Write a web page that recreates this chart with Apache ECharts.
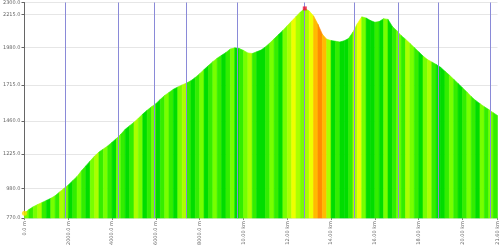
<!DOCTYPE html>
<html><head><meta charset="utf-8">
<script src="https://cdn.jsdelivr.net/npm/echarts@6/dist/echarts.min.js"></script>
<style>html,body{margin:0;padding:0;background:#fff}#c{width:500px;height:248px}</style>
</head><body><div id="c"></div>
<script>
// distance step between samples (km)
const stepKm = 0.2;
// elevation (m) sampled every 0.2 km
const elevations = [804,830,850,866,880,895,910,928,955,980,1005,1035,1065,1105,1140,1175,1210,1238,1260,1282,
1308,1335,1365,1400,1425,1450,1478,1508,1535,1560,1582,1612,1640,1662,1684,1700,1715,1728,1745,1768,
1795,1824,1852,1880,1905,1925,1945,1970,1978,1974,1960,1942,1938,1950,1962,1985,2012,2042,2072,2102,
2135,2168,2200,2232,2258,2240,2205,2145,2075,2040,2030,2025,2020,2028,2045,2090,2150,2198,2190,2172,
2160,2165,2185,2180,2130,2100,2065,2040,2010,1980,1950,1920,1895,1878,1860,1840,1812,1785,1755,1725,
1695,1665,1632,1605,1582,1560,1540,1518,1498];
const gradeClass = [2,1,2,3,1,0,2,1,3,2,0,1,2,1,0,2,3,1,2,
1,0,2,1,0,1,3,2,0,1,2,0,1,2,1,0,2,3,1,0,1,2,0,1,2,1,0,
1,2,0,1,2,3,1,0,0,1,2,1,0,
2,3,4,3,2,
3,4,5,6,5,3,
0,1,0,0,1,
3,4,2,
0,0,1,0,2,0,1,
2,1,3,2,1,0,2,3,1,0,0,1,2,1,0,1,2,1,0,2,1,2,1];
// waypoint markers (km)
const waypoints = [1.88, 4.26, 5.92, 7.40, 9.73, 12.78, 15.07, 17.09, 18.88, 21.26];
const totalKm = 21.6;
// tick labels
const xTicks = [0,2,4,6,8,10,12,14,16,18,20,21.6];
const yTicks = [770, 980, 1225, 1460, 1715, 1980, 2215, 2300];
const yMin = 770, yMax = 2300;

const palette = ['#00dd00','#33ee00','#77ff00','#aaff00','#eeff00','#ffbb00','#ff8c00'];

const segs = [];
for (let i = 0; i < elevations.length - 1; i++) {
  segs.push([i*stepKm, elevations[i], (i+1)*stepKm, elevations[i+1], gradeClass[i] || 0]);
}
let peakI = 0;
elevations.forEach((v,i)=>{ if (v > elevations[peakI]) peakI = i; });

const fmtX = v => v < 10 ? (v*1000).toFixed(1) + ' m' : v.toFixed(2) + ' km';

const chart = echarts.init(document.getElementById('c'), null, {renderer:'canvas'});
chart.setOption({
  animation:false,
  grid:{left:17, right:2, top:2, bottom:21},
  xAxis:{type:'value', min:0, max:totalKm,
    axisLine:{show:false},
    axisTick:{show:true, customValues:xTicks, length:2, lineStyle:{color:'#888'}},
    axisLabel:{customValues:xTicks, rotate:90, fontSize:5, color:'#666', margin:3, formatter:fmtX, fontFamily:'DejaVu Sans'},
    splitLine:{show:false}},
  yAxis:{type:'value', min:yMin, max:yMax,
    axisLine:{show:true, lineStyle:{color:'#666', width:1}},
    axisTick:{show:true, customValues:yTicks, length:3, inside:false, lineStyle:{color:'#666'}},
    axisLabel:{customValues:yTicks, fontSize:5, color:'#666', margin:4, formatter:v=>v.toFixed(1), fontFamily:'DejaVu Sans'},
    splitLine:{show:true, lineStyle:{color:'#e6e6e6', width:1}}},
  series:[
    {type:'custom', z:2, data:segs, encode:{x:[0,2], y:[1,3]},
      renderItem:(params, api)=>{
        const p0 = api.coord([api.value(0), api.value(1)]);
        const p1 = api.coord([api.value(2), api.value(3)]);
        const b0 = api.coord([api.value(0), yMin]);
        const b1 = api.coord([api.value(2), yMin]);
        const col = palette[api.value(4)];
        return {type:'polygon', shape:{points:[b0,p0,p1,b1]}, style:{fill:col, stroke:col, lineWidth:0.6}};
      }},
    {type:'line', data:[], silent:true, z:3,
      markLine:{silent:true, symbol:'none', label:{show:false},
        lineStyle:{color:'#8a8ad8', type:'solid', width:1},
        data: waypoints.map(v=>({xAxis:v}))}},
    {type:'scatter', z:5, symbol:'rect', symbolSize:4, itemStyle:{color:'#ee1133'},
      data:[[peakI*stepKm, elevations[peakI]]]},
    {type:'scatter', z:5, symbol:'circle', symbolSize:5, itemStyle:{color:'#ffdd00'},
      data:[[0, elevations[0]]]}
  ]
});
</script></body></html>
